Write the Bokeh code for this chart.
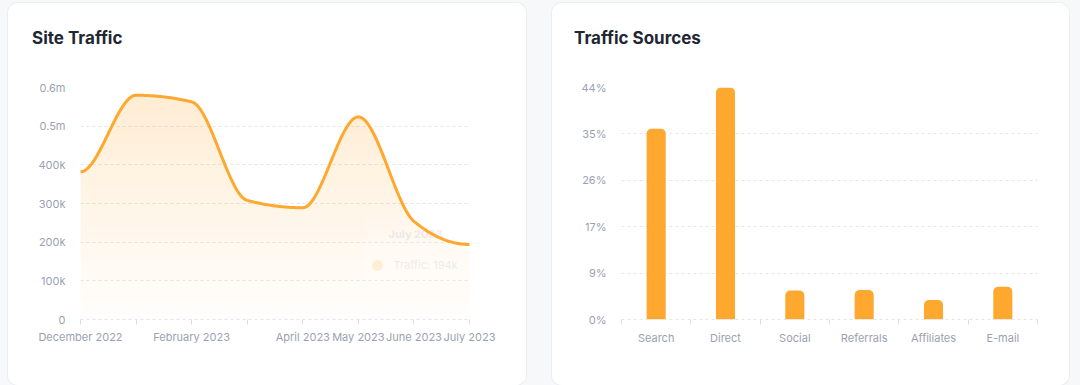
import numpy as np
from bokeh.plotting import figure
from bokeh.layouts import row, column
from bokeh.models import FixedTicker, Range1d, Div
from bokeh.core.properties import value
from bokeh.embed import file_html
from bokeh.resources import INLINE

try:
    from bokeh.models import GlobalInlineStyleSheet
except Exception:
    GlobalInlineStyleSheet = None

# ---------------- data ----------------
months = ["December 2022", "January 2023", "February 2023", "March 2023",
          "April 2023", "May 2023", "June 2023", "July 2023"]
shown_month_labels = ["December 2022", "", "February 2023", "", "April 2023",
                      "May 2023", "June 2023", "July 2023"]
traffic = [382000, 580000, 563000, 308000, 289000, 524000, 254000, 194000]
traffic_ticks = [0, 100000, 200000, 300000, 400000, 500000, 600000]
traffic_tick_labels = ["0", "100k", "200k", "300k", "400k", "0.5m", "0.6m"]
tooltip_title = "July 2023"
tooltip_text = "Traffic:  194k"

sources = ["Search", "Direct", "Social", "Referrals", "Affiliates", "E-mail"]
shares = [36.2, 44.1, 5.5, 5.6, 3.7, 6.2]
share_ticks = [0, 8.8, 17.6, 26.4, 35.2, 44]
share_tick_labels = ["0%", "9%", "17%", "26%", "35%", "44%"]

# ---------------- style ----------------
FONT = "Inter"
TICK_TXT = "#9aa2b1"
GRID = "#e2e5ea"
ORANGE = "#FEA82F"
TITLE_COL = "#1f2733"
PAGE_BG = "#f7f8fa"
HEAD_H = 74


def monotone_curve(xv, yv, n=40):
    x = np.asarray(xv, float)
    y = np.asarray(yv, float)
    h = np.diff(x)
    s = np.diff(y) / h
    t = np.zeros(len(x))
    for i in range(1, len(x) - 1):
        s0, s1 = s[i - 1], s[i]
        p = (s0 * h[i] + s1 * h[i - 1]) / (h[i - 1] + h[i])
        t[i] = (np.sign(s0) + np.sign(s1)) * min(abs(s0), abs(s1), 0.5 * abs(p))
    xs, ys = [], []
    for i in range(len(x) - 1):
        u = np.linspace(0, 1, n, endpoint=(i == len(x) - 2))
        h00 = 2 * u**3 - 3 * u**2 + 1
        h10 = u**3 - 2 * u**2 + u
        h01 = -2 * u**3 + 3 * u**2
        h11 = u**3 - u**2
        xs.append(x[i] + u * h[i])
        ys.append(h00 * y[i] + h10 * h[i] * t[i] + h01 * y[i + 1] + h11 * h[i] * t[i + 1])
    return np.concatenate(xs), np.concatenate(ys)


def base_style(p):
    p.outline_line_color = None
    p.background_fill_color = "white"
    p.border_fill_color = "white"
    p.xgrid.grid_line_color = None
    p.ygrid.grid_line_color = GRID
    p.ygrid.grid_line_dash = "3 3"
    p.ygrid.grid_line_width = 1
    for ax in p.yaxis:
        ax.axis_line_color = None
        ax.major_tick_line_color = None
        ax.minor_tick_line_color = None
        ax.major_label_text_font = FONT
        ax.major_label_text_font_size = "11px"
        ax.major_label_text_color = TICK_TXT
        ax.major_label_standoff = 9
    for ax in p.xaxis:
        ax.axis_line_color = GRID
        ax.axis_line_dash = "3 3"
        ax.major_label_text_font = FONT
        ax.major_label_text_font_size = "11px"
        ax.major_label_text_color = TICK_TXT
        ax.major_label_standoff = 5


def card(title, fig, left_pad):
    head = Div(text=('<div style="margin:25px 0 0 %dpx;font-family:Inter,sans-serif;'
                     'font-size:17px;font-weight:700;line-height:20px;color:%s;'
                     'white-space:nowrap">%s</div>') % (left_pad, TITLE_COL, title),
               width=fig.width, height=HEAD_H, margin=0,
               styles={"background-color": "white"})
    return column(head, fig, spacing=0, margin=0,
                  styles={"background-color": "white", "border-radius": "10px",
                          "overflow": "hidden", "box-shadow": "0 0 0 1px #eceef2"})


# ---------------- left chart: Site Traffic ----------------
L_W, L_H = 518, 382 - HEAD_H
L_LEFT, L_RIGHT, L_TOP, L_BOTTOM = 72, 57, 10, 66
p1 = figure(width=L_W, height=L_H, output_backend="svg", toolbar_location=None,
            x_range=Range1d(0, len(months) - 1), y_range=Range1d(0, traffic_ticks[-1]),
            min_border_left=L_LEFT, min_border_right=L_RIGHT,
            min_border_top=L_TOP, min_border_bottom=L_BOTTOM)
base_style(p1)

xi = list(range(len(months)))
cx, cy = monotone_curve(xi, traffic)

# vertical gradient fill approximated with horizontal translucent bands
n_bands = 40
top_val = traffic_ticks[-1]
for k in range(n_bands):
    lo = top_val * k / n_bands
    hi = top_val * (k + 1) / n_bands
    mid = 0.5 * (lo + hi)
    alpha = 0.012 + 0.205 * mid / top_val
    p1.varea(x=cx, y1=np.minimum(cy, lo), y2=np.minimum(cy, hi),
             fill_color=ORANGE, fill_alpha=alpha)

# faint fading tooltip (anchored to the last data point)
frame_w = L_W - L_LEFT - L_RIGHT
frame_h = L_H - L_TOP - L_BOTTOM
px_x = frame_w / (len(months) - 1)
px_y = frame_h / traffic_ticks[-1]
lx, ly = xi[-1], traffic[-1]
p1.quad(left=[lx - 106 / px_x], right=[lx + 2 / px_x],
        top=[ly + 26 / px_y], bottom=[ly - 42 / px_y],
        fill_color="white", fill_alpha=0.2, line_color=None)
p1.scatter(x=[lx - 92 / px_x], y=[ly - 21 / px_y], size=11, marker="circle",
           fill_color=ORANGE, fill_alpha=0.15, line_color=None)
p1.text(x=[lx], y=[ly], text=[tooltip_title], x_offset=-54, y_offset=-10,
        text_font=value(FONT), text_font_size="11px", text_font_style="bold",
        text_color="#c9cdd4", text_alpha=0.35, text_align="center",
        text_baseline="middle")
p1.text(x=[lx], y=[ly], text=[tooltip_text], x_offset=-76, y_offset=21,
        text_font=value(FONT), text_font_size="11px",
        text_color="#c9cdd4", text_alpha=0.35, text_align="left",
        text_baseline="middle")

p1.line(cx, cy, line_color=ORANGE, line_width=3, line_cap="round", line_join="round")

p1.xaxis.ticker = FixedTicker(ticks=xi)
p1.xaxis.major_label_overrides = {i: lab for i, lab in zip(xi, shown_month_labels)}
p1.xaxis.major_tick_line_color = "#dcdfe5"
p1.xaxis.major_tick_in = 0
p1.xaxis.major_tick_out = 5
p1.xaxis.minor_tick_line_color = None
p1.yaxis.ticker = FixedTicker(ticks=traffic_ticks)
p1.yaxis.major_label_overrides = {t: lab for t, lab in zip(traffic_ticks, traffic_tick_labels)}

# ---------------- right chart: Traffic Sources ----------------
R_W, R_H = 517, 382 - HEAD_H
p2 = figure(width=R_W, height=R_H, output_backend="svg", toolbar_location=None,
            x_range=Range1d(0, len(sources)), y_range=Range1d(0, share_ticks[-1]),
            min_border_left=69, min_border_right=32,
            min_border_top=10, min_border_bottom=66)
base_style(p2)

bx = [i + 0.5 for i in range(len(sources))]
p2.vbar(x=bx, top=shares, bottom=0, width=0.275, fill_color=ORANGE,
        line_color=None, border_radius=(5, 5, 0, 0))

p2.xaxis.ticker = FixedTicker(ticks=bx, minor_ticks=list(range(len(sources) + 1)))
p2.xaxis.major_label_overrides = {x: s for x, s in zip(bx, sources)}
p2.xaxis.major_tick_line_color = None
p2.xaxis.minor_tick_line_color = "#dcdfe5"
p2.xaxis.minor_tick_in = 0
p2.xaxis.minor_tick_out = 5
p2.yaxis.ticker = FixedTicker(ticks=share_ticks)
p2.yaxis.major_label_overrides = {t: lab for t, lab in zip(share_ticks, share_tick_labels)}

layout = row(card("Site Traffic", p1, 24), card("Traffic Sources", p2, 22), spacing=26)
layout.margin = (3, 0, 0, 8)
if GlobalInlineStyleSheet is not None:
    layout.stylesheets = [GlobalInlineStyleSheet(
        css="html,body{margin:0;padding:0;background-color:%s;}" % PAGE_BG)]

open("out.html", "w").write(file_html(layout, INLINE))
